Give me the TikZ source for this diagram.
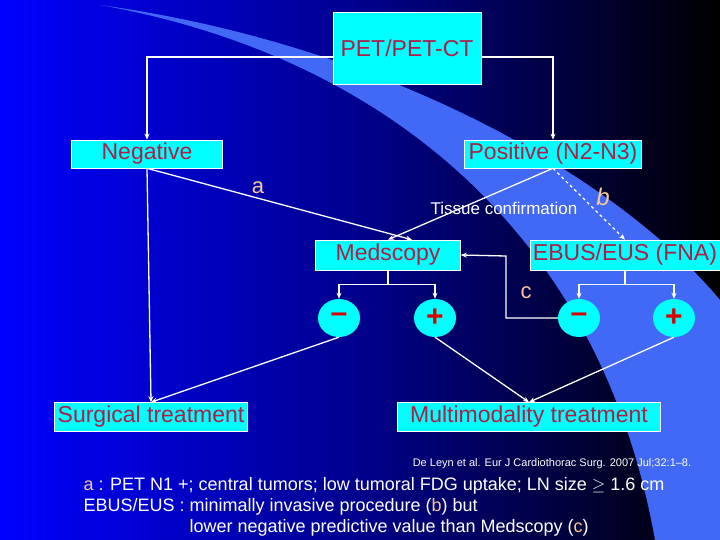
\documentclass[tikz,border=0pt]{standalone}
\usepackage{fontspec}
\setmainfont{Liberation Sans}
\usetikzlibrary{shapes.geometric,arrows.meta}
\definecolor{boxcyan}{RGB}{0,255,255}
\definecolor{boxtext}{RGB}{175,30,70}
\definecolor{peach}{RGB}{250,200,150}
\definecolor{swoosh}{RGB}{65,105,245}
\begin{document}
\begin{tikzpicture}[x=1pt,y=-1pt]
            \tikzstyle{every node}=[font=\fontsize{23}{24}\selectfont, text=boxtext]
            \tikzstyle{box}=[rectangle, fill=boxcyan, draw=white, line width=0.6pt, inner sep=0pt]
            \tikzstyle{sign}=[ellipse, fill=boxcyan, minimum width=42pt, minimum height=38pt, inner sep=0pt, font=\fontsize{30}{30}\bfseries\selectfont, text=red!85!black]
            \tikzstyle{edge}=[white, line width=1.3pt, -{Stealth[length=6pt,width=5pt]}]
            \tikzstyle{letter}=[text=peach, font=\fontsize{22}{22}\selectfont]

            % background
            \useasboundingbox (0,0) rectangle (720,540);
            \shade[left color=blue, right color=black, middle color=blue!55!black] (0,0) rectangle (720,540);
            \fill[swoosh] (100,5) .. controls (380,55) and (600,230) .. (655,540) -- (720,540) -- (720,300) .. controls (620,180) and (390,45) .. (100,5) -- cycle;

            % boxes
            \node[box, minimum width=148pt, minimum height=72pt] (pet) at (407,48) {PET/PET-CT};
            \node[box, minimum width=151pt, minimum height=28pt] (neg) at (147,154) {Negative};
            \node[box, minimum width=177pt, minimum height=28pt] (pos) at (553,154) {Positive (N2-N3)};
            \node[box, minimum width=145pt, minimum height=30pt] (med) at (388,255) {Medscopy};
            \node[box, minimum width=190pt, minimum height=30pt] (ebus) at (625,255) {EBUS/EUS (FNA)};
            \node[box, minimum width=193pt, minimum height=29pt] (surg) at (151,417) {Surgical treatment};
            \node[box, minimum width=263pt, minimum height=29pt] (multi) at (529,417) {Multimodality treatment};

            \node[sign] (m1) at (339,318) {--};
            \node[sign] (p1) at (435,318) {+};
            \node[sign] (m2) at (579,318) {--};
            \node[sign] (p2) at (674,318) {+};

            % connectors
            \draw[edge] (pet.west|-0,57) -| (neg.north);
            \draw[edge] (pet.east|-0,57) -| (pos.north);
            \draw[edge] (neg.south) -- (surg.north);
            \draw[edge] (neg.south) -- (med.north-|412,0);
            \draw[edge] (pos.south) -- (med.north);
            \draw[edge, dashed] (pos.south) -- (ebus.north);
            \draw[edge] (med.south) -- ++(0,14) -| (m1.north);
            \draw[edge] (med.south) ++(0,14) -| (p1.north);
            \draw[edge] (ebus.south) -- ++(0,14) -| (m2.north);
            \draw[edge] (ebus.south) ++(0,14) -| (p2.north);
            \draw[edge] (m2.west) -| (506,256) -- (med.east);
            \draw[edge] (m1.south) -- (surg.north);
            \draw[edge] (p1.south) -- (multi.north);
            \draw[edge] (p2.south) -- (multi.north);

            % labels
            \node[letter] (la) at (258,188) {a};
            \node[letter, font=\fontsize{24}{24}\itshape\selectfont] (lb) at (603,197) {b};
            \node[letter] (lc) at (526,293) {c};
            \node[text=white, font=\fontsize{17}{17}\selectfont] (tis) at (504,208) {Tissue confirmation};

            % notes
            \node[text=white, font=\fontsize{11}{11}\selectfont] (ref) at (552,464) {De Leyn et al. Eur J Cardiothorac Surg. 2007 Jul;32:1--8.};
            \node[text=white, anchor=west, font=\fontsize{18}{18}\selectfont] (n1) at (80,486) {\textcolor{peach}{a} : PET N1 +; central tumors; low tumoral FDG uptake; LN size $\geq$ 1.6 cm};
            \node[text=white, anchor=west, font=\fontsize{18}{18}\selectfont] (n2) at (80,507) {EBUS/EUS : minimally invasive procedure (\textcolor{peach}{b}) but};
            \node[text=white, anchor=west, font=\fontsize{18}{18}\selectfont] (n3) at (186,528) {lower negative predictive value than Medscopy (\textcolor{peach}{c})};
\end{tikzpicture}
\end{document}
